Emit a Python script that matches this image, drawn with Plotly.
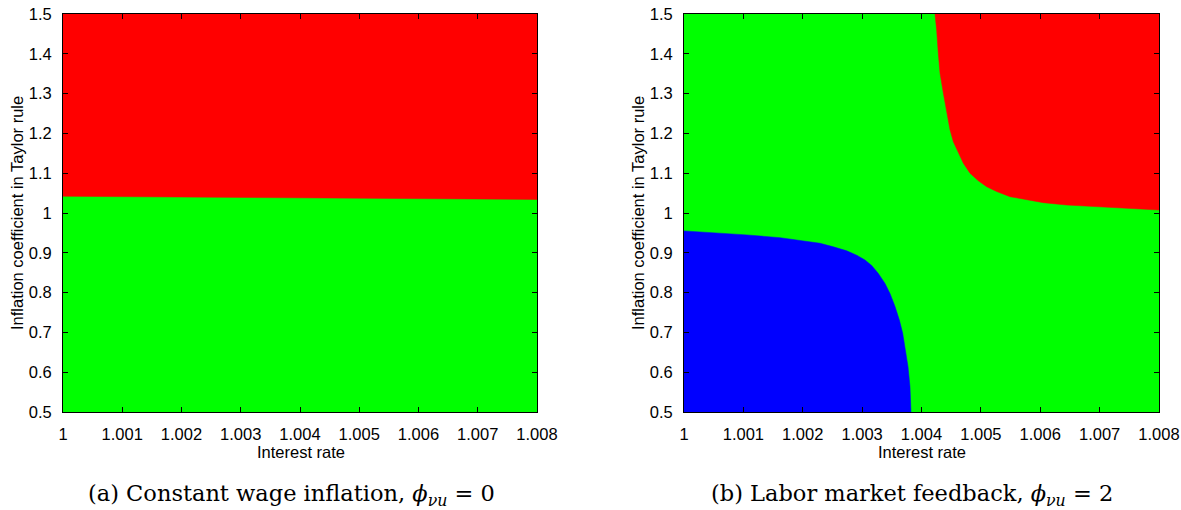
import plotly.graph_objects as go

# axis ranges and ticks
X_RANGE = [1.0, 1.008]
Y_RANGE = [0.5, 1.5]
x_tickvals = [1.0, 1.001, 1.002, 1.003, 1.004, 1.005, 1.006, 1.007, 1.008]
x_ticktext = ["1", "1.001", "1.002", "1.003", "1.004", "1.005", "1.006", "1.007", "1.008"]
y_tickvals = [0.5, 0.6, 0.7, 0.8, 0.9, 1.0, 1.1, 1.2, 1.3, 1.4, 1.5]
y_ticktext = ["0.5", "0.6", "0.7", "0.8", "0.9", "1", "1.1", "1.2", "1.3", "1.4", "1.5"]

# panel (a): boundary between red (above) and green (below)
a_bound_x = [1.000, 1.002, 1.004, 1.006, 1.008]
a_bound_y = [1.042, 1.040, 1.038, 1.036, 1.034]

# panel (b): red region boundary (upper right)
b_red_x = [1.004227, 1.004255, 1.004283, 1.004312, 1.004368, 1.004424, 1.004480,
           1.004536, 1.004620, 1.004705, 1.004817, 1.004957, 1.005098, 1.005266,
           1.005491, 1.005771, 1.006052, 1.006445, 1.007006, 1.007568, 1.008]
b_red_y = [1.5, 1.460, 1.401, 1.351, 1.301, 1.250, 1.209,
           1.179, 1.150, 1.125, 1.100, 1.081, 1.066, 1.054,
           1.041, 1.033, 1.026, 1.020, 1.015, 1.011, 1.0075]

# panel (b): blue region boundary (lower left)
b_blue_x = [1.0, 1.000494, 1.001056, 1.001617, 1.002010, 1.002291, 1.002515,
            1.002740, 1.002908, 1.003048, 1.003161, 1.003273, 1.003385, 1.003469,
            1.003554, 1.003627, 1.003683, 1.003733, 1.003773, 1.003806, 1.003823]
b_blue_y = [0.955, 0.951, 0.945, 0.938, 0.930, 0.924, 0.915,
            0.905, 0.894, 0.882, 0.868, 0.848, 0.823, 0.798,
            0.765, 0.731, 0.698, 0.656, 0.614, 0.564, 0.5]

RED = "#ff0000"
GREEN = "#00ff00"
BLUE = "#0000ff"

W, H = 1181, 510
def px(v):
    return v / W
def py(v):
    return 1 - v / H

fig = go.Figure()

# panel (a) red region
fig.add_trace(go.Scatter(
    x=a_bound_x + [X_RANGE[1], X_RANGE[0]],
    y=a_bound_y + [Y_RANGE[1], Y_RANGE[1]],
    fill="toself", fillcolor=RED, mode="lines", line=dict(color=RED, width=0.5),
    xaxis="x", yaxis="y", hoverinfo="skip", showlegend=False))

# panel (b) red region
fig.add_trace(go.Scatter(
    x=b_red_x + [X_RANGE[1]],
    y=b_red_y + [Y_RANGE[1]],
    fill="toself", fillcolor=RED, mode="lines", line=dict(color=RED, width=0.5),
    xaxis="x2", yaxis="y2", hoverinfo="skip", showlegend=False))

# panel (b) blue region
fig.add_trace(go.Scatter(
    x=b_blue_x + [X_RANGE[0]],
    y=b_blue_y + [Y_RANGE[0]],
    fill="toself", fillcolor=BLUE, mode="lines", line=dict(color=BLUE, width=0.5),
    xaxis="x2", yaxis="y2", hoverinfo="skip", showlegend=False))

FONT = dict(family="Liberation Sans, Arial, sans-serif", size=16.5, color="black")

axis_common = dict(showline=True, linecolor="black", linewidth=1, mirror="allticks",
                   ticks="inside", ticklen=5, tickcolor="black", tickwidth=1,
                   showgrid=False, zeroline=False, tickfont=FONT, tickmode="array",
                   ticklabelstandoff=7)

ydom = [py(412), py(14)]
fig.update_layout(
    width=W, height=H,
    margin=dict(l=0, r=0, t=0, b=0, autoexpand=False),
    paper_bgcolor="white",
    plot_bgcolor=GREEN,
    xaxis=dict(domain=[px(63), px(537)], range=X_RANGE, anchor="y",
               tickvals=x_tickvals, ticktext=x_ticktext, **axis_common),
    yaxis=dict(domain=ydom, range=Y_RANGE, anchor="x",
               tickvals=y_tickvals, ticktext=y_ticktext, **axis_common),
    xaxis2=dict(domain=[px(684), px(1159)], range=X_RANGE, anchor="y2",
                tickvals=x_tickvals, ticktext=x_ticktext, **axis_common),
    yaxis2=dict(domain=ydom, range=Y_RANGE, anchor="x2",
                tickvals=y_tickvals, ticktext=y_ticktext, **axis_common),
)

ann = []
# axis titles
for xc in (301, 922):
    ann.append(dict(text="Interest rate", x=px(xc), y=py(452), xref="paper", yref="paper",
                    xanchor="center", yanchor="middle", showarrow=False, font=FONT))
for xc in (17, 638):
    ann.append(dict(text="Inflation coefficient in Taylor rule", x=px(xc), y=py(213),
                    xref="paper", yref="paper", xanchor="center", yanchor="middle",
                    textangle=-90, showarrow=False, font=FONT))
# captions
CAP = dict(family="DejaVu Serif, serif", size=22.5, color="black")
ann.append(dict(text="(a) Constant wage inflation, <i>ϕ</i><sub><i>νu</i></sub> = 0",
                x=px(291), y=py(495), xref="paper", yref="paper",
                xanchor="center", yanchor="middle", showarrow=False, font=CAP))
ann.append(dict(text="(b) Labor market feedback, <i>ϕ</i><sub><i>νu</i></sub> = 2",
                x=px(912), y=py(495), xref="paper", yref="paper",
                xanchor="center", yanchor="middle", showarrow=False, font=CAP))
fig.update_layout(annotations=ann)

fig.write_html("out.html", config={"displayModeBar": False},
               post_script="document.body.style.margin='0';document.body.style.overflow='hidden';")
